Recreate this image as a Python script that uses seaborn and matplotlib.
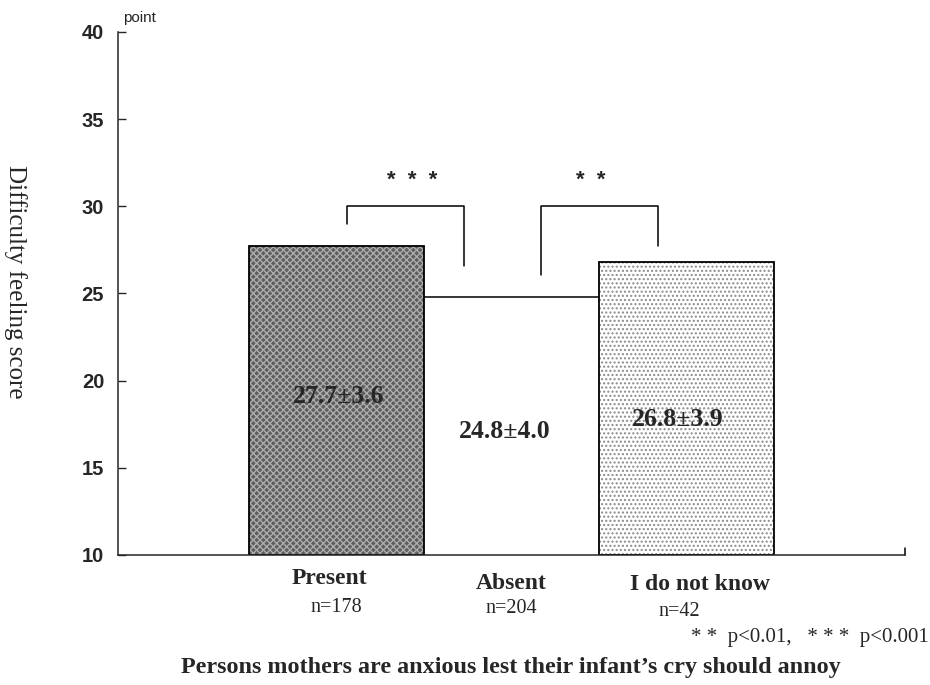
import matplotlib
matplotlib.use("Agg")
import matplotlib.pyplot as plt
import seaborn as sns

categories = ["Present", "Absent", "I do not know"]
means = [27.7, 24.8, 26.8]
sds = [3.6, 4.0, 3.9]
counts = [178, 204, 42]
y_ticks = [10, 15, 20, 25, 30, 35, 40]

sns.set_style("ticks")
plt.rcParams["hatch.linewidth"] = 1.0

fig = plt.figure(figsize=(9.3, 6.85), dpi=100)
ax = fig.add_axes([0.1269, 0.1898, 0.8462, 0.7635])

sns.barplot(x=categories, y=means, ax=ax, width=1.0, color="white",
            saturation=1, errorbar=None)

serif = "Liberation Serif"
sans = "Liberation Sans"

# bar styles
p_present, p_absent, p_idk = ax.patches[:3]
p_present.set_facecolor("#5e5e5e")
p_present.set_edgecolor("#acacac")
p_present.set_hatch("xxxxx")
p_present.set_linewidth(0)
p_absent.set_facecolor("white")
p_absent.set_linewidth(0)
p_idk.set_facecolor("white")
p_idk.set_edgecolor("#8a8a8a")
p_idk.set_hatch("....")
p_idk.set_linewidth(0)

# outlines for the filled bars
for i in (0, 2):
    ax.bar(i, means[i] - 10, bottom=10, width=1.0, fill=False,
           edgecolor="black", linewidth=1.3)
# absent bar only has its top line
ax.hlines(means[1], 0.5, 1.5, color="black", linewidth=1.1)

ax.set_ylim(10, 40)
ax.set_xlim(-1.25, 3.25)
ax.set_yticks(y_ticks)
ax.set_yticklabels([str(t) for t in y_ticks], fontfamily=sans,
                   fontweight="bold", fontsize=14.5)
ax.tick_params(axis="y", direction="in", length=6, width=1, pad=10)
ax.set_xticks([])
ax.set_xlabel("")
ax.set_ylabel("")
sns.despine(ax=ax)
for s in ("left", "bottom"):
    ax.spines[s].set_linewidth(1.1)
ax.plot([3.25, 3.25], [10, 10.4], color="black", lw=1.1, clip_on=False)

ax.text(-1.22, 40.6, "point", fontfamily=sans, fontsize=11, ha="left")

# value labels inside bars
label_y = [19.1, 17.1, 17.8]
label_dx = [0.01, -0.04, -0.05]
for i, (m, s) in enumerate(zip(means, sds)):
    ax.text(i + label_dx[i], label_y[i], f"{m}±{s}", ha="center", va="center",
            fontfamily=serif, fontweight="bold", fontsize=18.5)

# significance brackets
def bracket(x0, x1, y0, y1, top, stars, sx):
    ax.plot([x0, x0, x1, x1], [y0, top, top, y1], color="black", lw=1.1)
    ax.text(sx, top + 1.5, stars, ha="center", va="center",
            fontfamily=sans, fontweight="bold", fontsize=16)

bracket(0.06, 0.727, 29.0, 26.6, 30.0, "*  *  *", 0.43)
bracket(1.167, 1.836, 26.05, 27.7, 30.0, "*  *", 1.455)

# category labels and group sizes
cat_dx = [-0.04, 0.0, 0.08]
cat_y = [0.155, 0.148, 0.146]
n_dx = [0.0, 0.0, -0.04]
n_y = [0.113, 0.111, 0.108]
for i, c in enumerate(categories):
    x_fig = ax.transData.transform((i + cat_dx[i], 10))[0] / fig.bbox.width
    fig.text(x_fig, cat_y[i], c, ha="center", va="center", fontfamily=serif,
             fontweight="bold", fontsize=17)
    x_fig = ax.transData.transform((i + n_dx[i], 10))[0] / fig.bbox.width
    fig.text(x_fig, n_y[i], f"n={counts[i]}", ha="center", va="center",
             fontfamily=serif, fontsize=14.5)

fig.text(0.0165, 0.588, "Difficulty feeling score", rotation=270,
         ha="center", va="center", fontfamily=serif, fontsize=18)
fig.text(0.999, 0.07, "* *  p<0.01,   * * *  p<0.001", ha="right",
         va="center", fontfamily=serif, fontsize=15)
fig.text(0.549, 0.025, "Persons mothers are anxious lest their infant\u2019s cry should annoy",
         ha="center", va="center", fontfamily=serif, fontweight="bold",
         fontsize=17.4)

fig.savefig("out.png", dpi=100)
